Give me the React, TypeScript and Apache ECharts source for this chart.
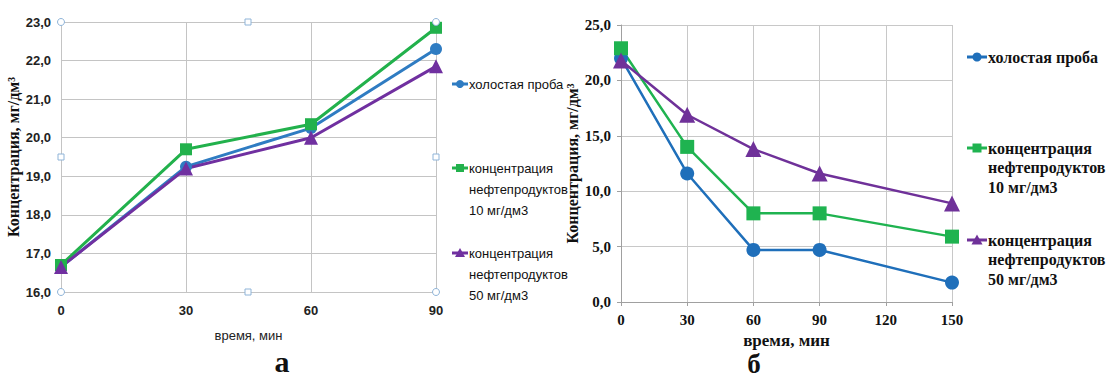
import React, { useEffect, useRef } from "react";
import * as echarts from "echarts";

// ---- data: chart "а" ----
const timeA = [0, 30, 60, 90];
const blankA = [16.65, 19.25, 20.25, 22.3];
const oil10A = [16.7, 19.7, 20.35, 22.85];
const oil50A = [16.65, 19.2, 20.0, 21.85];

// ---- data: chart "б" ----
const timeB = [0, 30, 60, 90, 150];
const blankB = [22.0, 11.6, 4.7, 4.7, 1.75];
const oil10B = [22.9, 14.0, 8.0, 8.0, 5.9];
const oil50B = [21.8, 16.9, 13.8, 11.6, 8.9];

const seriesNames = [
  "холостая проба",
  "концентрация\nнефтепродуктов\n10 мг/дм3",
  "концентрация\nнефтепродуктов\n50 мг/дм3",
];
const yTitle = "Концентрация, мг/дм³";
const xTitle = "время, мин";
const panelLabels = ["а", "б"];

const colorsA = ["#2f7cc2", "#22b14c", "#7030a0"];
const colorsB = ["#1f6fba", "#1fb350", "#6f3199"];
const symbols = ["circle", "rect", "triangle"];

const zip = (xs: number[], ys: number[]) => xs.map((x, i) => [x, ys[i]]);
const comma = (v: number) => v.toFixed(1).replace(".", ",");

function legendItems(
  x: number,
  ys: number[],
  colors: string[],
  lineW: number,
  mk: number,
  font: string,
  lh: number
) {
  const out: any[] = [];
  seriesNames.forEach((name, i) => {
    const y = ys[i];
    const c = colors[i];
    out.push({
      type: "line",
      shape: { x1: x, y1: y, x2: x + lineW, y2: y },
      style: { stroke: c, lineWidth: 3 },
    });
    const cx = x + lineW / 2;
    if (symbols[i] === "circle") {
      out.push({ type: "circle", shape: { cx, cy: y, r: mk / 2 }, style: { fill: c } });
    } else if (symbols[i] === "rect") {
      out.push({
        type: "rect",
        shape: { x: cx - mk / 2, y: y - mk / 2, width: mk, height: mk },
        style: { fill: c },
      });
    } else {
      out.push({
        type: "polygon",
        shape: { points: [[cx, y - mk / 2 - 1], [cx - mk / 2 - 1, y + mk / 2], [cx + mk / 2 + 1, y + mk / 2]] },
        style: { fill: c },
      });
    }
    out.push({
      type: "text",
      x: x + lineW + 1,
      y: y - lh / 2,
      style: { text: name, font, fill: "#111", lineHeight: lh, textVerticalAlign: "top" },
    });
  });
  return out;
}

function handles() {
  const st = { fill: "#fff", stroke: "#8fb4d8", lineWidth: 1 };
  const circles = [
    [61, 22],
    [436, 22],
    [61, 292],
    [436, 292],
  ].map(([cx, cy]) => ({ type: "circle", z: 10, shape: { cx, cy, r: 3.5 }, style: st }));
  const squares = [
    [248, 22],
    [248, 292],
    [61, 157],
    [436, 157],
  ].map(([x, y]) => ({ type: "rect", z: 10, shape: { x: x - 3, y: y - 3, width: 6, height: 6 }, style: st }));
  return [...circles, ...squares];
}

export default function App() {
  const ref = useRef<HTMLDivElement>(null);
  useEffect(() => {
    document.body.style.margin = "0";
    const chart = echarts.init(ref.current!, null, { renderer: "svg" });
    const sansA = "Liberation Sans";
    const serif = "Liberation Serif";
    const gridColA = "#c4c4c4";
    const gridColB = "#c8c8c8";
    const mkSeries = (
      name: string,
      data: number[][],
      color: string,
      sym: string,
      idx: number,
      size: number,
      lw: number
    ) => ({
      name,
      type: "line",
      xAxisIndex: idx,
      yAxisIndex: idx,
      data,
      symbol: sym,
      symbolSize: sym === "triangle" ? size + 2 : size,
      showSymbol: true,
      lineStyle: { color, width: lw },
      itemStyle: { color, borderWidth: 0 },
    });
    chart.setOption({
      animation: false,
      backgroundColor: "#fff",
      grid: [
        { left: 61, top: 22, width: 375, height: 270 },
        { left: 621, top: 25, width: 331, height: 277 },
      ],
      xAxis: [
        {
          type: "value",
          gridIndex: 0,
          min: 0,
          max: 90,
          interval: 30,
          name: xTitle,
          nameLocation: "middle",
          nameGap: 37,
          nameTextStyle: { fontFamily: sansA, fontSize: 13, color: "#222" },
          axisLine: { show: true, lineStyle: { color: gridColA } },
          axisTick: { show: false },
          splitLine: { show: true, lineStyle: { color: gridColA } },
          axisLabel: { fontFamily: sansA, fontWeight: "bold", fontSize: 13, color: "#222", margin: 12 },
        },
        {
          type: "value",
          gridIndex: 1,
          min: 0,
          max: 150,
          interval: 30,
          name: xTitle,
          nameLocation: "middle",
          nameGap: 30,
          nameTextStyle: { fontFamily: serif, fontWeight: "bold", fontSize: 17, color: "#111" },
          axisLine: { show: true, lineStyle: { color: "#a0a0a0" } },
          axisTick: { show: true, length: 4, lineStyle: { color: "#a0a0a0" } },
          splitLine: { show: true, lineStyle: { color: gridColB } },
          axisLabel: { fontFamily: serif, fontWeight: "bold", fontSize: 15, color: "#111", margin: 10 },
        },
      ],
      yAxis: [
        {
          type: "value",
          gridIndex: 0,
          min: 16,
          max: 23,
          interval: 1,
          name: yTitle,
          nameLocation: "middle",
          nameGap: 38,
          nameRotate: 90,
          nameTextStyle: { fontFamily: serif, fontWeight: "bold", fontSize: 16, color: "#111" },
          axisLine: { show: true, lineStyle: { color: gridColA } },
          axisTick: { show: false },
          splitLine: { show: true, lineStyle: { color: gridColA } },
          axisLabel: {
            fontFamily: sansA,
            fontWeight: "bold",
            fontSize: 13,
            color: "#222",
            margin: 10,
            formatter: comma,
          },
        },
        {
          type: "value",
          gridIndex: 1,
          min: 0,
          max: 25,
          interval: 5,
          name: yTitle,
          nameLocation: "middle",
          nameGap: 39,
          nameRotate: 90,
          nameTextStyle: { fontFamily: serif, fontWeight: "bold", fontSize: 16, color: "#111" },
          axisLine: { show: true, lineStyle: { color: "#a0a0a0" } },
          axisTick: { show: true, length: 4, lineStyle: { color: "#a0a0a0" } },
          splitLine: { show: true, lineStyle: { color: gridColB } },
          axisLabel: {
            fontFamily: serif,
            fontWeight: "bold",
            fontSize: 15,
            color: "#111",
            margin: 10,
            formatter: comma,
          },
        },
      ],
      series: [
        mkSeries(seriesNames[0], zip(timeA, blankA), colorsA[0], "circle", 0, 12, 3),
        mkSeries(seriesNames[1], zip(timeA, oil10A), colorsA[1], "rect", 0, 12, 3),
        mkSeries(seriesNames[2], zip(timeA, oil50A), colorsA[2], "triangle", 0, 12, 3),
        mkSeries(seriesNames[0], zip(timeB, blankB), colorsB[0], "circle", 1, 14, 2.5),
        mkSeries(seriesNames[1], zip(timeB, oil10B), colorsB[1], "rect", 1, 14, 2.5),
        mkSeries(seriesNames[2], zip(timeB, oil50B), colorsB[2], "triangle", 1, 14, 2.5),
      ],
      graphic: [
        ...handles(),
        ...legendItems(452, [84, 168, 253], colorsA, 16, 8, `13px ${sansA}`, 21),
        ...legendItems(967, [57, 148, 240], colorsB, 20, 9, `bold 16px ${serif}`, 19.5),
        {
          type: "text",
          x: 282,
          y: 376,
          style: {
            text: panelLabels[0],
            font: `bold 30px ${serif}`,
            fill: "#111",
            textAlign: "center",
            textVerticalAlign: "bottom",
          },
        },
        {
          type: "text",
          x: 754,
          y: 375,
          style: {
            text: panelLabels[1],
            font: `bold 27px ${serif}`,
            lineHeight: 22,
            fill: "#111",
            textAlign: "center",
            textVerticalAlign: "bottom",
          },
        },
      ],
    });
    return () => chart.dispose();
  }, []);
  return <div ref={ref} style={{ width: 1111, height: 376 }} />;
}
